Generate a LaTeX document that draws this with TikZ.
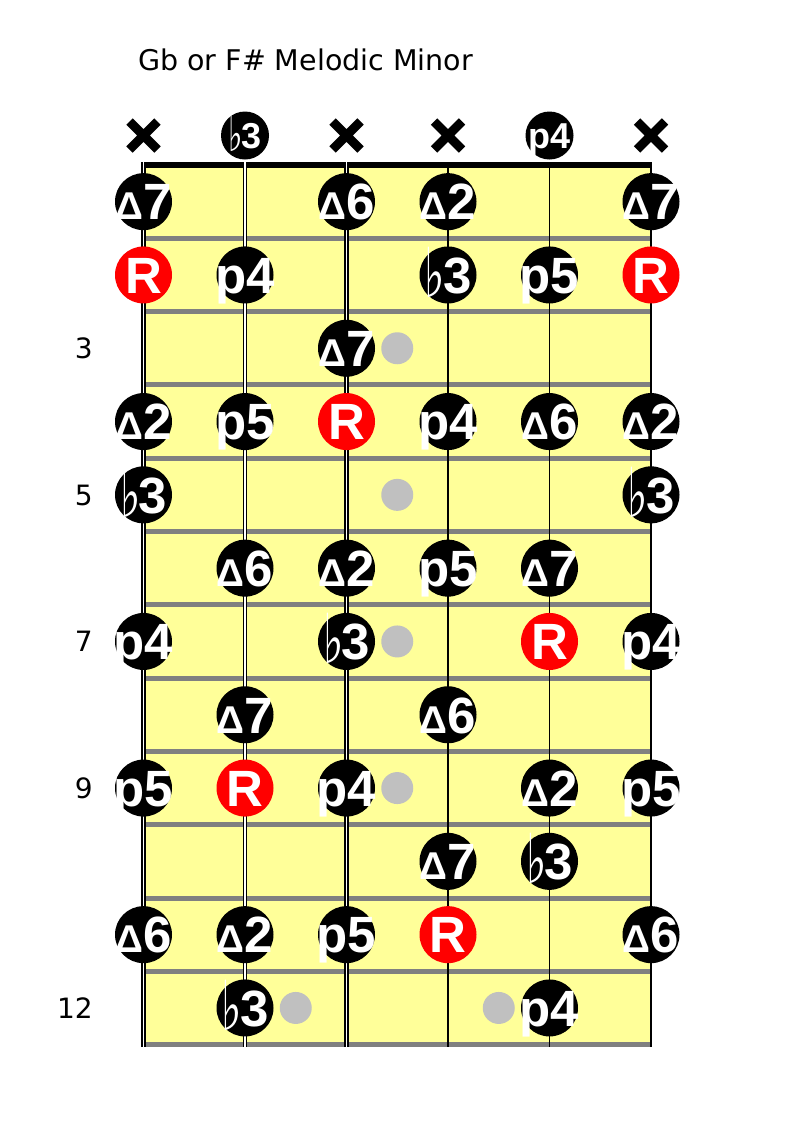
\documentclass[tikz,border=0pt]{standalone}
\usepackage{fontspec}
\usepackage{graphicx}
\setmainfont{DejaVu Sans}
\newfontfamily\degfont{Liberation Sans}
\newfontfamily\symfont{DejaVu Sans}
\usetikzlibrary{calc}

\definecolor{boardyellow}{HTML}{FFFF99}
\definecolor{fretgray}{HTML}{808080}
\definecolor{dotgray}{HTML}{C0C0C0}

\newcommand{\tri}{\scalebox{0.76}{Δ}}
\newcommand{\fl}{\raisebox{-0.08em}{\symfont\scalebox{0.85}[1.35]{♭}}\kern-0.04em}

\begin{document}
\begin{tikzpicture}[
      x=1pt, y=-1pt,
      deg/.style={circle, fill=black, minimum size=57pt, inner sep=0pt, label={[degtext, anchor=center]center:#1}},
      rootdeg/.style={deg=R, fill=red},
      opendeg/.style={circle, fill=black, minimum size=48pt, inner sep=0pt, label={[opentext, anchor=center]center:#1}},
      degtext/.style={text=white, inner sep=0pt, text height=36.5pt, text depth=0pt, font=\degfont\bfseries\fontsize{51}{51}\selectfont},
      opentext/.style={degtext, text height=26pt, font=\degfont\bfseries\fontsize{36}{36}\selectfont},
      fretdot/.style={circle, fill=dotgray, minimum size=32pt, inner sep=0pt},
      fretnum/.style={anchor=east, inner sep=0pt, text height=20.4pt, text depth=0pt, font=\fontsize{28}{28}\selectfont},
      heading/.style={anchor=base west, inner sep=0pt, font=\fontsize{28.5}{28.5}\selectfont},
      fretline/.style={fretgray, line width=5pt},
      woundstring/.style={double=white, double distance=1.9pt, line width=1.3pt},
      thinstring/.style={black, line width=1.3pt},
      mutex/.style={line width=9pt}
    ]
    \useasboundingbox (0,0) rectangle (792,1122);

    % grid points: fret rows and strings
    \foreach \f in {1,...,12}
      \foreach \s in {1,...,6}
        \coordinate (g-\f-\s) at ({143.5+101.5*(\s-1)}, {165+73.3*(\f-0.5)});
    \foreach \s in {1,...,6} {
      \coordinate (g-0-\s) at ({143.5+101.5*(\s-1)}, 135.5);
      \coordinate (top-\s) at ({143.5+101.5*(\s-1)}, 162);
      \coordinate (bot-\s) at ({143.5+101.5*(\s-1)}, 1047);
    }

    % board
    \fill[boardyellow] (top-1) rectangle (bot-6);
    \foreach \f in {1,...,12}
      \draw[fretline] (143.5, {165+73.3*\f}) -- (651, {165+73.3*\f});
    \draw[line width=6pt] (143.5,165) -- (651,165);
    \foreach \s in {1,2,3}
      \draw[woundstring] (top-\s) -- (bot-\s);
    \foreach \s in {4,5,6}
      \draw[thinstring] (top-\s) -- (bot-\s);

    \node[heading] (title) at (138,70) {Gb or F\# Melodic Minor};
    \foreach \f in {3,5,7,9,12}
      \node[fretnum] (fn-\f) at (93, {165+73.3*(\f-0.5)}) {\f};

    % position markers
    \node[fretdot] (d-3) at ($(g-3-3)!0.5!(g-3-4)$) {};
    \node[fretdot] (d-5) at ($(g-5-3)!0.5!(g-5-4)$) {};
    \node[fretdot] (d-7) at ($(g-7-3)!0.5!(g-7-4)$) {};
    \node[fretdot] (d-9) at ($(g-9-3)!0.5!(g-9-4)$) {};
    \node[fretdot] (d-12a) at ($(g-12-2)!0.5!(g-12-3)$) {};
    \node[fretdot] (d-12b) at ($(g-12-4)!0.5!(g-12-5)$) {};

    % open strings
    \foreach \s in {1,3,4,6}
      \draw[mutex] ([shift={(-14,-14)}]g-0-\s) -- ([shift={(14,14)}]g-0-\s)
                   ([shift={(-14,14)}]g-0-\s) -- ([shift={(14,-14)}]g-0-\s);
    \node[opendeg={\fl3}] (n-0-2) at (g-0-2) {};
    \node[opendeg={p4}] (n-0-5) at (g-0-5) {};

    % scale tones
    \node[deg={\tri7}] (n-1-1) at (g-1-1) {};
    \node[deg={\tri6}] (n-1-3) at (g-1-3) {};
    \node[deg={\tri2}] (n-1-4) at (g-1-4) {};
    \node[deg={\tri7}] (n-1-6) at (g-1-6) {};

    \node[rootdeg] (n-2-1) at (g-2-1) {};
    \node[deg={p4}] (n-2-2) at (g-2-2) {};
    \node[deg={\fl3}] (n-2-4) at (g-2-4) {};
    \node[deg={p5}] (n-2-5) at (g-2-5) {};
    \node[rootdeg] (n-2-6) at (g-2-6) {};

    \node[deg={\tri7}] (n-3-3) at (g-3-3) {};

    \node[deg={\tri2}] (n-4-1) at (g-4-1) {};
    \node[deg={p5}] (n-4-2) at (g-4-2) {};
    \node[rootdeg] (n-4-3) at (g-4-3) {};
    \node[deg={p4}] (n-4-4) at (g-4-4) {};
    \node[deg={\tri6}] (n-4-5) at (g-4-5) {};
    \node[deg={\tri2}] (n-4-6) at (g-4-6) {};

    \node[deg={\fl3}] (n-5-1) at (g-5-1) {};
    \node[deg={\fl3}] (n-5-6) at (g-5-6) {};

    \node[deg={\tri6}] (n-6-2) at (g-6-2) {};
    \node[deg={\tri2}] (n-6-3) at (g-6-3) {};
    \node[deg={p5}] (n-6-4) at (g-6-4) {};
    \node[deg={\tri7}] (n-6-5) at (g-6-5) {};

    \node[deg={p4}] (n-7-1) at (g-7-1) {};
    \node[deg={\fl3}] (n-7-3) at (g-7-3) {};
    \node[rootdeg] (n-7-5) at (g-7-5) {};
    \node[deg={p4}] (n-7-6) at (g-7-6) {};

    \node[deg={\tri7}] (n-8-2) at (g-8-2) {};
    \node[deg={\tri6}] (n-8-4) at (g-8-4) {};

    \node[deg={p5}] (n-9-1) at (g-9-1) {};
    \node[rootdeg] (n-9-2) at (g-9-2) {};
    \node[deg={p4}] (n-9-3) at (g-9-3) {};
    \node[deg={\tri2}] (n-9-5) at (g-9-5) {};
    \node[deg={p5}] (n-9-6) at (g-9-6) {};

    \node[deg={\tri7}] (n-10-4) at (g-10-4) {};
    \node[deg={\fl3}] (n-10-5) at (g-10-5) {};

    \node[deg={\tri6}] (n-11-1) at (g-11-1) {};
    \node[deg={\tri2}] (n-11-2) at (g-11-2) {};
    \node[deg={p5}] (n-11-3) at (g-11-3) {};
    \node[rootdeg] (n-11-4) at (g-11-4) {};
    \node[deg={\tri6}] (n-11-6) at (g-11-6) {};

    \node[deg={\fl3}] (n-12-2) at (g-12-2) {};
    \node[deg={p4}] (n-12-5) at (g-12-5) {};
  \end{tikzpicture}
\end{document}
